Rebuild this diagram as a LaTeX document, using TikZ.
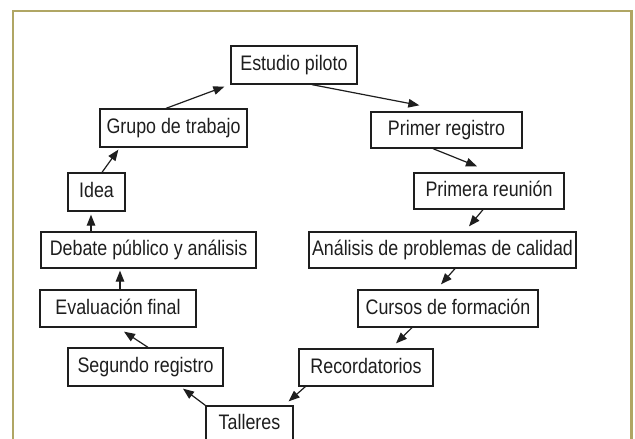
\documentclass[tikz,border=0pt]{standalone}
\usepackage{fontspec}
\setmainfont{Liberation Sans}[FakeStretch=0.85]
\usetikzlibrary{arrows.meta}
\definecolor{framec}{RGB}{176,166,100}
\definecolor{ink}{RGB}{30,30,30}
\tikzset{
  stagebox/.style={draw=ink, line width=1.3pt, text=ink, inner xsep=0pt, inner ysep=0pt,
    font=\fontsize{21}{23}\selectfont, text height=15.6pt, text depth=4pt, anchor=center},
  flow/.style={draw=ink, line width=1.2pt, -{Triangle[length=11pt,width=8.5pt]}}
}
\begin{document}
\begin{tikzpicture}[x=1pt,y=-1pt]
\clip (0,0) rectangle (635,439);
\fill[white] (0,0) rectangle (635,439);
\draw[framec, line width=2.2pt] (13,470) -- (13,11) -- (631.5,11) -- (631.5,470);
\node[stagebox, minimum width=126pt, minimum height=38pt] (est) at (294,65) {Estudio piloto};
\node[stagebox, minimum width=147pt, minimum height=38pt] (grupo) at (173.5,128) {Grupo de trabajo};
\node[stagebox, minimum width=151pt, minimum height=36pt] (primer) at (446.5,130) {Primer registro};
\node[stagebox, minimum width=150pt, minimum height=36pt] (reunion) at (489,191) {Primera reunión};
\node[stagebox, minimum width=267pt, minimum height=36pt] (analisis) at (442.5,250) {Análisis de problemas de calidad};
\node[stagebox, minimum width=180pt, minimum height=37pt] (cursos) at (448,308.5) {Cursos de formación};
\node[stagebox, minimum width=134pt, minimum height=37pt] (record) at (366,367.5) {Recordatorios};
\node[stagebox, minimum width=87pt, minimum height=40pt, text depth=9.6pt] (talleres) at (249.5,426) {Talleres};
\node[stagebox, minimum width=155pt, minimum height=38pt] (segundo) at (145.5,367) {Segundo registro};
\node[stagebox, minimum width=156pt, minimum height=37pt] (eval) at (118,308.5) {Evaluación final};
\node[stagebox, minimum width=215pt, minimum height=36pt] (debate) at (148.5,250) {Debate público y análisis};
\node[stagebox, minimum width=57pt, minimum height=38pt] (idea) at (96.5,192) {Idea};
\draw[flow] ([xshift=-7.5pt]grupo.north) -- ([xshift=-6pt,yshift=-2pt]est.south west);
\draw[flow] ([xshift=18pt]est.south) -- ([xshift=49pt,yshift=6pt]primer.north west);
\draw[flow] ([xshift=-13.5pt]primer.south) -- ([xshift=-12pt,yshift=6pt]reunion.north);
\draw[flow] ([xshift=-6pt]reunion.south) -- ([xshift=26.5pt,yshift=5pt]analisis.north);
\draw[flow] ([xshift=12.5pt]analisis.south) -- ([xshift=-7pt,yshift=5pt]cursos.north);
\draw[flow] ([xshift=-36pt]cursos.south) -- ([xshift=30pt,yshift=5pt]record.north);
\draw[flow] ([xshift=7pt]record.south west) -- ([xshift=-5pt,yshift=4pt]talleres.north east);
\draw[flow] (talleres.north west) -- ([xshift=37.5pt,yshift=-2pt]segundo.south);
\draw[flow] ([xshift=2.5pt]segundo.north) -- ([xshift=6pt,yshift=-4pt]eval.south);
\draw[flow] ([xshift=2pt]eval.north) -- ([xshift=-28.5pt,yshift=-2pt]debate.south);
\draw[flow] ([xshift=-57.5pt]debate.north) -- ([xshift=-5.5pt,yshift=-3pt]idea.south);
\draw[flow] ([xshift=5.5pt]idea.north) -- ([xshift=19pt,yshift=-2pt]grupo.south west);
\end{tikzpicture}
\end{document}
